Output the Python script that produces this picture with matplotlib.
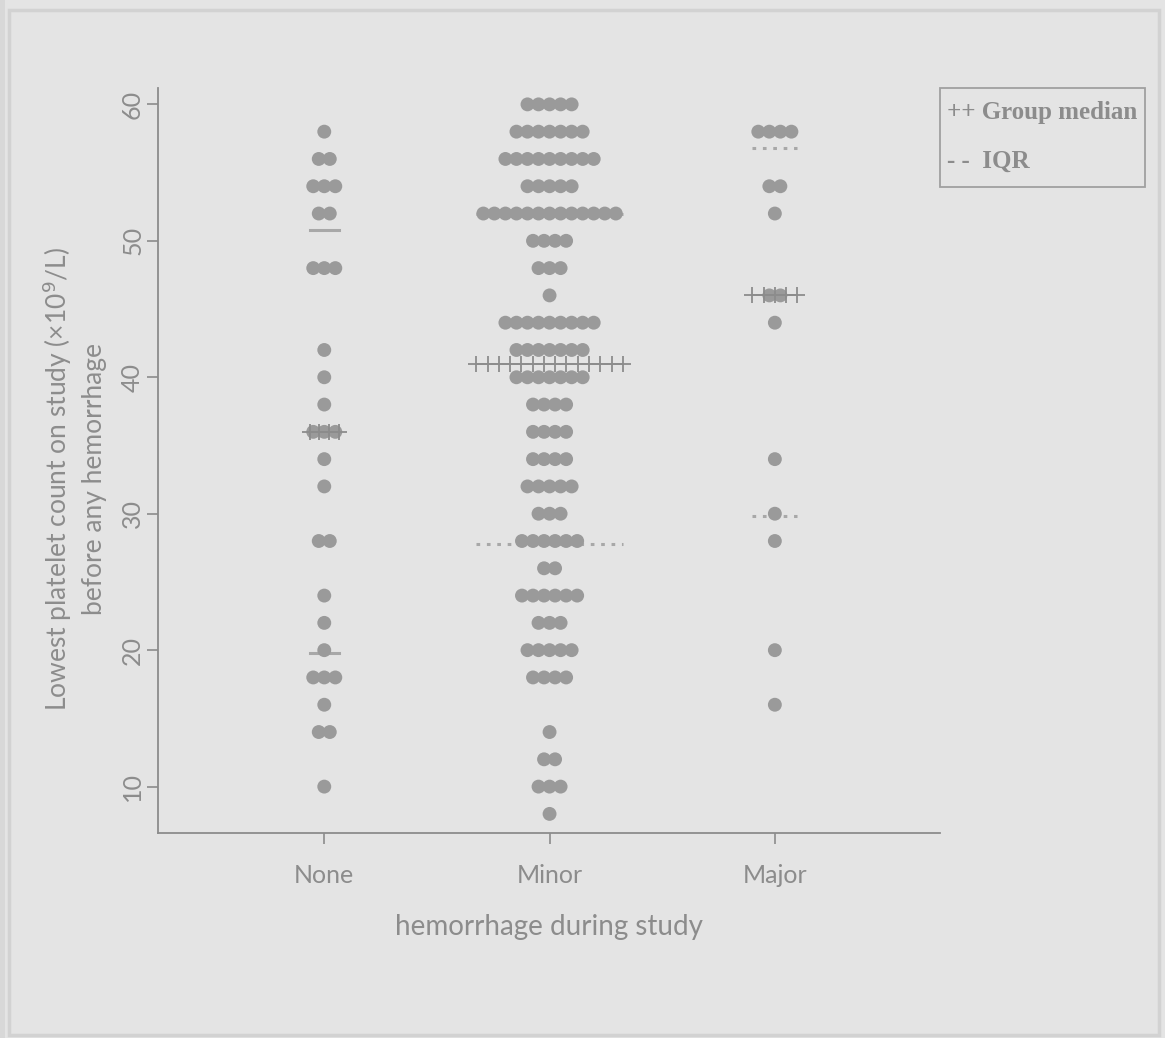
import matplotlib
matplotlib.use("Agg")
import matplotlib.pyplot as plt
from matplotlib.patches import Rectangle

# platelet counts per group, value rows and number of patients on each row
groups = ["None", "Minor", "Major"]
none_vals = [58, 56, 54, 52, 48, 42, 40, 38, 36, 34, 32, 28, 24, 22, 20, 18, 16, 14, 10]
none_counts = [1, 2, 3, 2, 3, 1, 1, 1, 3, 1, 1, 2, 1, 1, 1, 3, 1, 2, 1]
minor_vals = [60, 58, 56, 54, 52, 50, 48, 46, 44, 42, 40, 38, 36, 34, 32, 30, 28, 26,
              24, 22, 20, 18, 14, 12, 10, 8]
minor_counts = [5, 7, 9, 5, 13, 4, 3, 1, 9, 7, 7, 4, 4, 4, 5, 3, 6, 2, 6, 3, 5, 4, 1, 2, 3, 1]
major_vals = [58, 54, 52, 46, 44, 34, 30, 28, 20, 16]
major_counts = [4, 2, 1, 2, 1, 1, 1, 1, 1, 1]

medians = [36, 41, 46]
q1 = [19.8, 27.8, 29.8]
q3 = [50.8, 52, 56.8]
yticks = [10, 20, 30, 40, 50, 60]

bg = "#e4e4e4"
grey = "#8c8c8c"
dotc = "#9a9a9a"
sans = ["Lato", "DejaVu Sans"]
serif = ["Liberation Serif", "DejaVu Serif"]

fig = plt.figure(figsize=(11.65, 10.38), dpi=100)
fig.patch.set_facecolor(bg)
# frame of the page
fig.patches.append(Rectangle((9 / 1165, 0.003), 1150 / 1165, 1 - 13 / 1038, transform=fig.transFigure,
                             fill=False, edgecolor="#d2d2d2", lw=2.5))
fig.patches.append(Rectangle((0, 0), 5 / 1165, 1, transform=fig.transFigure,
                             facecolor="#d8d8d8", edgecolor="none"))

ax = fig.add_axes([158 / 1165, 1 - 833 / 1038, (940 - 158) / 1165, (833 - 88) / 1038])
ax.set_facecolor(bg)

step = 0.049
for k, (vals, cnts) in enumerate([(none_vals, none_counts), (minor_vals, minor_counts),
                                   (major_vals, major_counts)]):
    c = k + 1
    xs, ys = [], []
    for v, n in zip(vals, cnts):
        for i in range(n):
            xs.append(c + (i - (n - 1) / 2) * step)
            ys.append(v)
    ax.scatter(xs, ys, s=100, color=dotc, edgecolors="none", zorder=3)

half = [0.065, 0.325, 0.10]
nplus = [4, 14, 5]
for k in range(3):
    c = k + 1
    h = half[k]
    px = [c - h + 2 * h * i / (nplus[k] - 1) for i in range(nplus[k])]
    ax.plot(px, [medians[k]] * len(px), color=grey, lw=1.2, marker="+", ms=11, mew=1.3, zorder=4)
    for q in (q1[k], q3[k]):
        ax.plot([c - h, c + h], [q, q], color="#a8a8a8", lw=2.2,
                linestyle=(0, (1.2, 2.2)) if k > 0 else "-", zorder=2)

ax.set_xlim(0.262, 3.733)
ax.set_ylim(6.6, 61.2)
for s in ["top", "right"]:
    ax.spines[s].set_visible(False)
for s in ["left", "bottom"]:
    ax.spines[s].set_color(grey)
    ax.spines[s].set_linewidth(1.3)

ax.set_yticks(yticks)
ax.set_yticklabels([str(t) for t in yticks], rotation=90, va="center",
                   fontsize=18, color=grey, family=sans)
ax.set_xticks([1, 2, 3])
ax.set_xticklabels(groups, fontsize=18, color=grey, family=sans)
ax.tick_params(axis="both", color=grey, length=8, width=1.2)
ax.tick_params(axis="x", pad=14)
ax.tick_params(axis="y", pad=2)

ax.set_xlabel("hemorrhage during study", fontsize=20, color=grey, family=sans, labelpad=20)
fig.text(74 / 1165, 1 - 479 / 1038,
         "Lowest platelet count on study (\u00d710$^9$/L)\nbefore any hemorrhage",
         rotation=90, ha="center", va="center", multialignment="center",
         fontsize=19, color=grey, family=sans, linespacing=1.4)

# legend box
fig.patches.append(Rectangle((940 / 1165, 1 - 187 / 1038), 205 / 1165, 99 / 1038,
                             transform=fig.transFigure, fill=False, edgecolor="#a0a0a0", lw=1.3))
fig.text(947 / 1165, 1 - 113 / 1038, "++ Group median", fontsize=18, color=grey,
         family=serif, weight="bold", va="center")
fig.text(947 / 1165, 1 - 161 / 1038, "- -  IQR", fontsize=18, color=grey,
         family=serif, weight="bold", va="center")

fig.savefig("out.png", dpi=100, facecolor=bg)
